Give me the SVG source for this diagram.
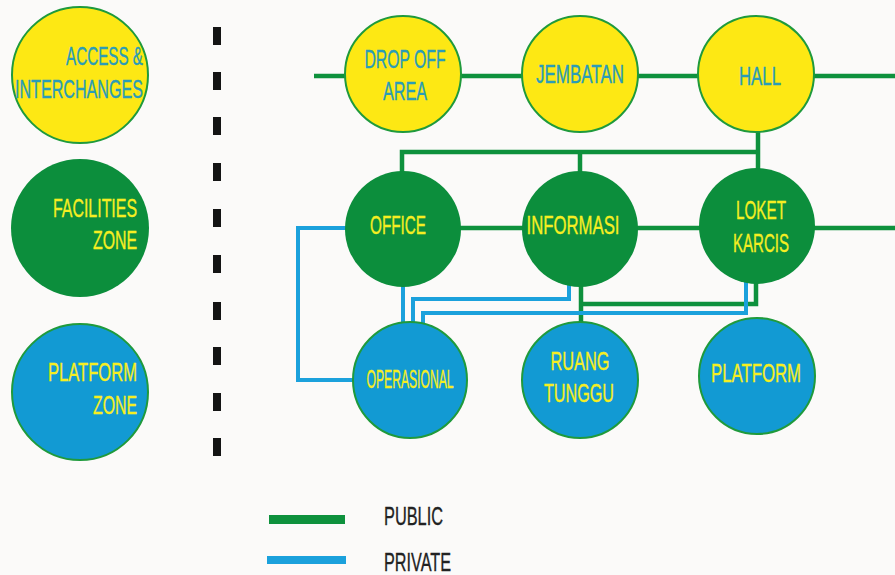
<svg xmlns="http://www.w3.org/2000/svg" width="895" height="575" viewBox="0 0 895 575">
  <style>
    .bg { fill: #fbfaf9; }
    .yel { fill: #fde814; stroke: #1f9a3c; stroke-width: 2; }
    .grn { fill: #0c8e3c; }
    .blu { fill: #129ad3; stroke: #1f9a3c; stroke-width: 2; }
    .pub { fill: none; stroke: #0e913d; stroke-width: 4.5; stroke-linecap: butt; stroke-linejoin: miter; }
    .prv { fill: none; stroke: #1ba1dc; stroke-width: 4; stroke-linecap: butt; stroke-linejoin: miter; }
    text { font-family: "Liberation Sans Narrow", "Liberation Sans", Arial, sans-serif; font-size: 25.5px; stroke-width: 0.35px; }
    .t1 { fill: #2a9cb8; stroke: #2a9cb8; }
    .t2 { fill: #f6ee22; stroke: #f6ee22; }
    .lg { fill: #222222; stroke: #222222; }
    .dash { fill: #141414; }
  </style>

  <rect class="bg" x="0" y="0" width="895" height="575"/>

  <!-- zone divider -->
  <g id="divider">
    <rect class="dash" x="213" y="27" width="8" height="18"/>
    <rect class="dash" x="213" y="72" width="8" height="18"/>
    <rect class="dash" x="213" y="117" width="8" height="18"/>
    <rect class="dash" x="213" y="163" width="8" height="18"/>
    <rect class="dash" x="213" y="209" width="8" height="18"/>
    <rect class="dash" x="213" y="255" width="8" height="18"/>
    <rect class="dash" x="213" y="302" width="8" height="18"/>
    <rect class="dash" x="213" y="347" width="8" height="18"/>
    <rect class="dash" x="213" y="393" width="8" height="18"/>
    <rect class="dash" x="213" y="438" width="8" height="18"/>
  </g>

  <!-- zone key circles -->
  <g id="zone-access">
    <circle class="yel" cx="80" cy="75" r="68"/>
    <text class="t1" x="143" y="65" text-anchor="end" textLength="77" lengthAdjust="spacingAndGlyphs">ACCESS &amp;</text>
    <text class="t1" x="143" y="98" text-anchor="end" textLength="128" lengthAdjust="spacingAndGlyphs">INTERCHANGES</text>
  </g>
  <g id="zone-facilities">
    <circle class="grn" cx="80" cy="228" r="69"/>
    <text class="t2" x="137" y="217" text-anchor="end" textLength="84" lengthAdjust="spacingAndGlyphs">FACILITIES</text>
    <text class="t2" x="137" y="249" text-anchor="end" textLength="44" lengthAdjust="spacingAndGlyphs">ZONE</text>
  </g>
  <g id="zone-platform">
    <circle class="blu" cx="80" cy="392" r="68"/>
    <text class="t2" x="137" y="381" text-anchor="end" textLength="89" lengthAdjust="spacingAndGlyphs">PLATFORM</text>
    <text class="t2" x="137" y="414" text-anchor="end" textLength="44" lengthAdjust="spacingAndGlyphs">ZONE</text>
  </g>

  <!-- connectors -->
  <g id="connectors">
    <path class="pub" d="M314,76 H895"/>
    <path class="pub" d="M403,228 H895"/>
    <path class="pub" d="M402,172 V152 H758"/>
    <path class="pub" d="M580,152 V172"/>
    <path class="pub" d="M758,130 V170"/>
    <path class="pub" d="M581,285 V324"/>
    <path class="pub" d="M756,282 V304 H581"/>
    <path class="prv" d="M346,228 H298 V380 H353"/>
    <path class="prv" d="M403,286 V324"/>
    <path class="prv" d="M569,285 V299 H413 V325"/>
    <path class="prv" d="M746,281 V313 H423 V326"/>
  </g>

  <!-- access row -->
  <g id="drop-off-area">
    <circle class="yel" cx="403" cy="74" r="58"/>
    <text class="t1" x="405" y="68" text-anchor="middle" textLength="81" lengthAdjust="spacingAndGlyphs">DROP OFF</text>
    <text class="t1" x="405" y="100" text-anchor="middle" textLength="44" lengthAdjust="spacingAndGlyphs">AREA</text>
  </g>
  <g id="jembatan">
    <circle class="yel" cx="580" cy="74" r="58"/>
    <text class="t1" x="580" y="83" text-anchor="middle" textLength="88" lengthAdjust="spacingAndGlyphs">JEMBATAN</text>
  </g>
  <g id="hall">
    <circle class="yel" cx="756" cy="74" r="58"/>
    <text class="t1" x="760" y="85" text-anchor="middle" textLength="42" lengthAdjust="spacingAndGlyphs">HALL</text>
  </g>

  <!-- facilities row -->
  <g id="office">
    <ellipse class="grn" cx="403" cy="229" rx="58" ry="58"/>
    <text class="t2" x="398" y="234" text-anchor="middle" textLength="56" lengthAdjust="spacingAndGlyphs">OFFICE</text>
  </g>
  <g id="informasi">
    <ellipse class="grn" cx="580" cy="229" rx="58" ry="58"/>
    <text class="t2" x="573" y="234" text-anchor="middle" textLength="93" lengthAdjust="spacingAndGlyphs">INFORMASI</text>
  </g>
  <g id="loket-karcis">
    <ellipse class="grn" cx="757" cy="226" rx="58" ry="58"/>
    <text class="t2" x="761" y="219" text-anchor="middle" textLength="50" lengthAdjust="spacingAndGlyphs">LOKET</text>
    <text class="t2" x="761" y="252" text-anchor="middle" textLength="56" lengthAdjust="spacingAndGlyphs">KARCIS</text>
  </g>

  <!-- platform row -->
  <g id="operasional">
    <ellipse class="blu" cx="410" cy="380" rx="57" ry="58"/>
    <text class="t2" x="410" y="388" text-anchor="middle" font-size="20" textLength="87" lengthAdjust="spacingAndGlyphs">OPERASIONAL</text>
  </g>
  <g id="ruang-tunggu">
    <ellipse class="blu" cx="580" cy="380" rx="58" ry="58"/>
    <text class="t2" x="580" y="370" text-anchor="middle" textLength="59" lengthAdjust="spacingAndGlyphs">RUANG</text>
    <text class="t2" x="579" y="402" text-anchor="middle" textLength="70" lengthAdjust="spacingAndGlyphs">TUNGGU</text>
  </g>
  <g id="platform">
    <ellipse class="blu" cx="757" cy="376" rx="58" ry="58"/>
    <text class="t2" x="756" y="382" text-anchor="middle" textLength="90" lengthAdjust="spacingAndGlyphs">PLATFORM</text>
  </g>

  <!-- legend -->
  <g id="legend">
    <rect x="269" y="515" width="76" height="9" fill="#0e913d"/>
    <text class="lg" x="384" y="525" textLength="59" lengthAdjust="spacingAndGlyphs">PUBLIC</text>
    <rect x="267" y="556" width="79" height="8" fill="#1ba1dc"/>
    <text class="lg" x="384" y="571" textLength="67" lengthAdjust="spacingAndGlyphs">PRIVATE</text>
  </g>
</svg>
